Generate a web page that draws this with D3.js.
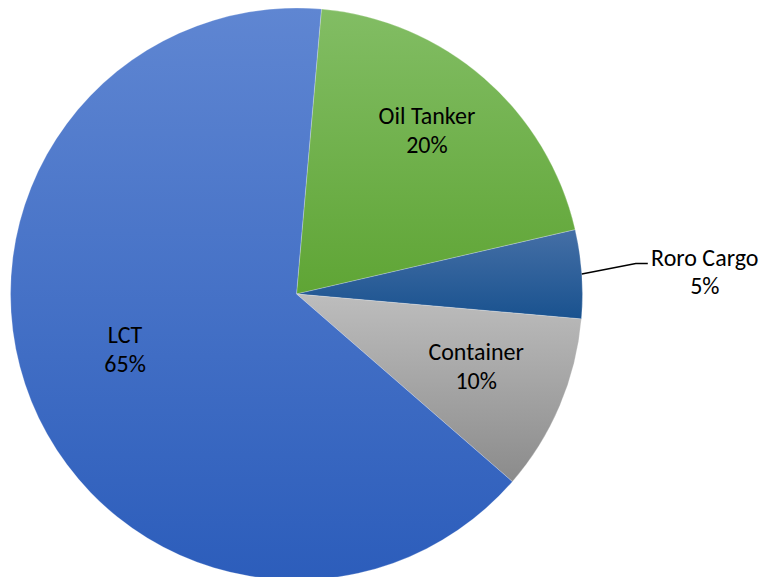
<!DOCTYPE html>
<html>
<head>
<meta charset="utf-8">
<script src="https://cdn.jsdelivr.net/npm/d3@7"></script>
<style>
  body { margin: 0; background: #fff; }
  svg text { font-family: Carlito, Lato, "Open Sans", sans-serif; font-size: 24px; fill: #000; }
</style>
</head>
<body>
<div id="chart"></div>
<script>
const categories = ['Oil Tanker', 'Roro Cargo', 'Container', 'LCT'];
const values = [20, 5, 10, 65];
const labels = ['20%', '5%', '10%', '65%'];

const width = 764, height = 577;
const cx = 296.5, cy = 294, r = 286;
const startDeg = 5;

const colors = [
    ['#82bd64', '#5fa535'],
    ['#456fa6', '#19528f'],
    ['#bdbdbd', '#8b8b8b'],
    ['#5f86d2', '#2c5dbb']
];
// label anchor as [angle in degrees, fraction of radius]; null = outside with leader
const labelPos = [[38.6, 0.731], null, [112.1, 0.678], [251.8, 0.631]];

const svg = d3.select('#chart')
    .append('svg')
    .attr('width', width)
    .attr('height', height);

const defs = svg.append('defs');
colors.forEach((c, i) => {
    const g = defs.append('linearGradient')
        .attr('id', 'grad' + i)
        .attr('x1', 0).attr('y1', 0).attr('x2', 0).attr('y2', 1);
    g.append('stop').attr('offset', '0%').attr('stop-color', c[0]);
    g.append('stop').attr('offset', '100%').attr('stop-color', c[1]);
});

const pie = d3.pie()
    .sort(null)
    .value(d => d)
    .startAngle(startDeg * Math.PI / 180)
    .endAngle((startDeg + 360) * Math.PI / 180);
const arcs = pie(values);

const arc = d3.arc().innerRadius(0).outerRadius(r);

const g = svg.append('g').attr('transform', `translate(${cx},${cy})`);

g.selectAll('path')
    .data(arcs)
    .enter().append('path')
    .attr('d', arc)
    .attr('fill', (d, i) => `url(#grad${i})`)
    .attr('stroke', '#ffffff')
    .attr('stroke-opacity', 0.4)
    .attr('stroke-width', 0.6);

arcs.forEach((d, i) => {
    const mid = (d.startAngle + d.endAngle) / 2;
    if (labelPos[i] !== null) {
        const a = labelPos[i][0] * Math.PI / 180, lr = r * labelPos[i][1];
        const x = Math.sin(a) * lr, y = -Math.cos(a) * lr;
        const t = g.append('text').attr('text-anchor', 'middle');
        t.append('tspan').attr('x', x).attr('y', y - 7).text(categories[i]);
        t.append('tspan').attr('x', x).attr('y', y + 22).text(labels[i]);
    } else {
        // outside label with leader line
        const p0 = [Math.sin(mid) * r, -Math.cos(mid) * r];
        const p1 = [p0[0] + 54, p0[1] - 10.5];
        const p2 = [p1[0] + 12, p1[1]];
        g.append('polyline')
            .attr('points', [p0, p1, p2].map(p => p.join(',')).join(' '))
            .attr('fill', 'none')
            .attr('stroke', '#000')
            .attr('stroke-width', 1.5);
        const x = p2[0] + 57;
        const t = g.append('text').attr('text-anchor', 'middle');
        t.append('tspan').attr('x', x).attr('y', p2[1] + 2).text(categories[i]);
        t.append('tspan').attr('x', x).attr('y', p2[1] + 30).text(labels[i]);
    }
});
</script>
</body>
</html>
